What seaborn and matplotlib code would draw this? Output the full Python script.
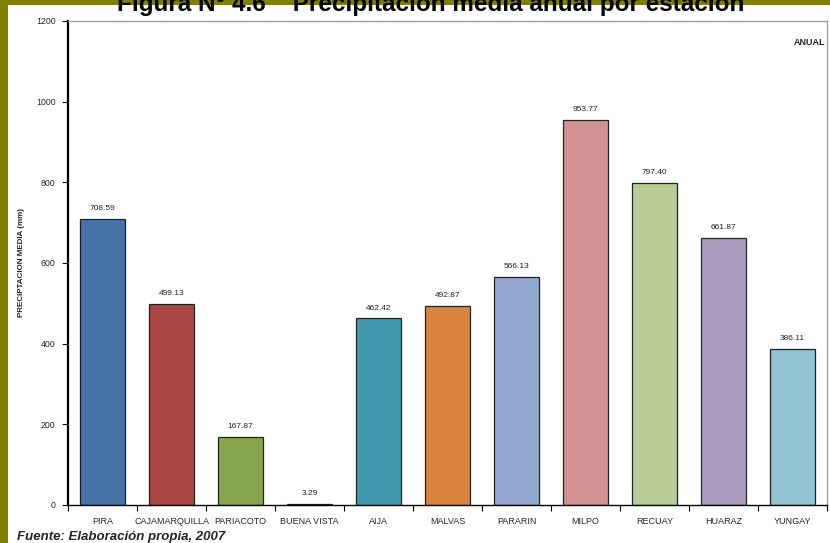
import matplotlib
matplotlib.use("Agg")
import matplotlib.pyplot as plt
from matplotlib.patches import Rectangle
import seaborn as sns
import pandas as pd

estaciones = ["PIRA", "CAJAMARQUILLA", "PARIACOTO", "BUENA VISTA", "AIJA", "MALVAS",
              "PARARIN", "MILPO", "RECUAY", "HUARAZ", "YUNGAY"]
precipitacion = [708.59, 499.13, 167.87, 3.29, 462.42, 492.87,
                 566.13, 953.77, 797.40, 661.87, 386.11]
colores = ["#4572A7", "#AA4643", "#89A54E", "#71588F", "#4198AF", "#DB843D",
           "#93A9CF", "#D19392", "#B9CD96", "#A99BBD", "#92C3D4"]
yticks = [0, 200, 400, 600, 800, 1000, 1200]

sns.set_theme(style="white")
plt.rcParams["font.family"] = ["Liberation Sans", "DejaVu Sans"]

W, H = 830, 543
fig = plt.figure(figsize=(W / 100, H / 100), dpi=100, facecolor="#808000")
# white page area inside the olive frame
fig.patches.append(Rectangle((8 / W, 0), 1, 1 - 5 / H, transform=fig.transFigure,
                             facecolor="white", edgecolor="none", zorder=-5))

ax = fig.add_axes([68 / W, 38 / H, (827 - 68) / W, (505 - 21) / H])
ax.set_facecolor("white")

df = pd.DataFrame({"estacion": estaciones, "pp": precipitacion})
sns.barplot(data=df, x="estacion", y="pp", hue="estacion", palette=colores,
            saturation=1, legend=False, width=0.64, edgecolor="#222222",
            linewidth=0.9, ax=ax)

for i, v in enumerate(precipitacion):
    ax.annotate(f"{v:.2f}", (i, v), xytext=(0, 5), textcoords="offset points",
                ha="center", va="bottom", fontsize=6, color="#222222")

ax.set_ylim(0, 1200)
ax.set_xlim(-0.5, len(estaciones) - 0.5)
ax.set_yticks(yticks)
ax.set_yticklabels([str(t) for t in yticks], fontsize=6.3)
ax.tick_params(axis="y", length=4, width=0.8, color="black", pad=5, left=True)
ax.tick_params(axis="x", which="major", length=0, pad=9, labelsize=6.5)
ax.set_xticks([i + 0.5 for i in range(-1, len(estaciones))], minor=True)
ax.tick_params(axis="x", which="minor", length=4, width=0.8, color="black", bottom=True)

ax.set_xlabel("")
ax.set_ylabel("PRECIPTACION MEDIA (mm)", fontsize=5.8, fontweight="bold", labelpad=8)

ax.spines["left"].set_color("black")
ax.spines["left"].set_linewidth(1.6)
ax.spines["bottom"].set_color("black")
ax.spines["bottom"].set_linewidth(1.0)
for s in ("top", "right"):
    ax.spines[s].set_color("#A0A0A0")
    ax.spines[s].set_linewidth(1.0)

ax.text(0.998, 0.955, "ANUAL", transform=ax.transAxes, ha="right", va="center",
        fontsize=6.5, fontweight="bold")

fig.text(431 / W, 1 - 11 / H, "Figura N° 4.6    Precipitación media anual por estación",
         ha="center", va="baseline", fontsize=17.5, fontweight="bold", color="black")
fig.text(17 / W, 1 - 540 / H, "Fuente: Elaboración propia, 2007", ha="left",
         va="baseline", fontsize=9.5, fontweight="bold", style="italic")

fig.savefig("out.png", dpi=100, facecolor=fig.get_facecolor())
